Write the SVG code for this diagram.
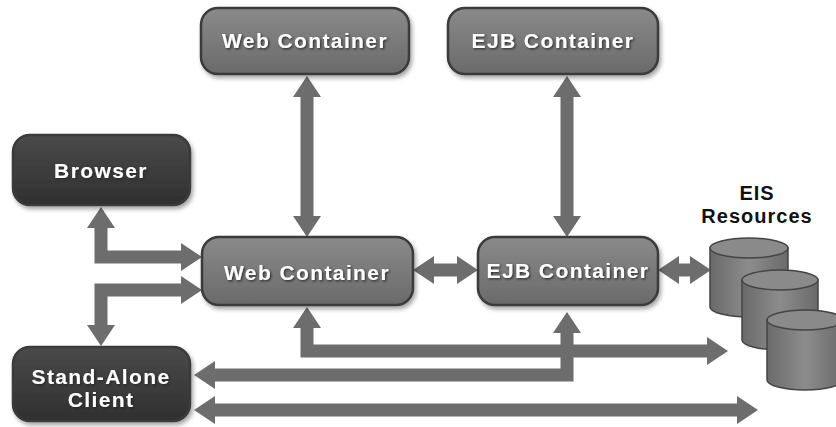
<svg xmlns="http://www.w3.org/2000/svg" width="836" height="427" viewBox="0 0 836 427">
<style>
.box{stroke:#3a3a3a;stroke-width:2.5}
.cont{fill:url(#gCont)}
.dark{fill:url(#gDark)}
.lbl{font-family:"Liberation Sans",Arial,sans-serif;font-weight:bold;font-size:21px;fill:#fff;text-anchor:middle;letter-spacing:1.4px;filter:url(#ts)}
.eis{font-family:"Liberation Sans",Arial,sans-serif;font-weight:bold;font-size:20px;fill:#111;text-anchor:middle;letter-spacing:1px}
.arr{fill:none;stroke:#6d6d6d;stroke-width:13;stroke-linejoin:miter;marker-start:url(#ah);marker-end:url(#ah)}
.cyl{fill:url(#gCyl);stroke:#444;stroke-width:1.5}
.cyltop{fill:#8a8a8a;stroke:#444;stroke-width:1.5}
</style>
<defs>
<linearGradient id="gCont" x1="0" y1="0" x2="0" y2="1">
<stop offset="0" stop-color="#8a8a8a"/><stop offset="1" stop-color="#6a6a6a"/>
</linearGradient>
<linearGradient id="gDark" x1="0" y1="0" x2="0" y2="1">
<stop offset="0" stop-color="#4a4a4a"/><stop offset="1" stop-color="#303030"/>
</linearGradient>
<linearGradient id="gCyl" x1="0" y1="0" x2="1" y2="0">
<stop offset="0" stop-color="#6a6a6a"/><stop offset="0.5" stop-color="#8c8c8c"/><stop offset="1" stop-color="#6a6a6a"/>
</linearGradient>
<filter id="ts" x="-10%" y="-30%" width="120%" height="160%">
<feDropShadow dx="1.2" dy="1.2" stdDeviation="0.8" flood-color="#222" flood-opacity="0.9"/>
</filter>
<filter id="bs" x="-10%" y="-10%" width="125%" height="130%">
<feDropShadow dx="2" dy="3" stdDeviation="2" flood-color="#000" flood-opacity="0.35"/>
</filter>
<marker id="ah" markerUnits="userSpaceOnUse" markerWidth="21" markerHeight="28" viewBox="0 0 21 28" refX="2" refY="14" orient="auto-start-reverse">
<path d="M0,0 L21,14 L0,28 Z" fill="#6d6d6d"/>
</marker>
</defs>

<g id="connectors">
<path class="arr" d="M307,95 L307,218"/>
<path class="arr" d="M567,95 L567,218"/>
<path class="arr" d="M101,226 L101,257 L183,257"/>
<path class="arr" d="M183,290 L101,290 L101,327"/>
<path class="arr" d="M432,270 L459,270"/>
<path class="arr" d="M677,270 L692,270"/>
<path class="arr" d="M307,326 L307,351 L709,351"/>
<path class="arr" d="M213,375 L567,375 L567,331"/>
<path class="arr" d="M213,410 L739,410"/>
</g>

<g id="web-top" filter="url(#bs)">
<rect class="box cont" x="201" y="8" width="208" height="66" rx="17"/>
<text class="lbl" x="305" y="48">Web Container</text>
</g>
<g id="ejb-top" filter="url(#bs)">
<rect class="box cont" x="448" y="8" width="210" height="66" rx="17"/>
<text class="lbl" x="553" y="48">EJB Container</text>
</g>
<g id="browser" filter="url(#bs)">
<rect class="box dark" x="13" y="135" width="177" height="70" rx="17"/>
<text class="lbl" x="101" y="178">Browser</text>
</g>
<g id="web-mid" filter="url(#bs)">
<rect class="box cont" x="202" y="237" width="211" height="68" rx="17"/>
<text class="lbl" x="307" y="280">Web Container</text>
</g>
<g id="ejb-mid" filter="url(#bs)">
<rect class="box cont" x="478" y="237" width="180" height="68" rx="17"/>
<text class="lbl" x="568" y="278">EJB Container</text>
</g>
<g id="client" filter="url(#bs)">
<rect class="box dark" x="13" y="347" width="177" height="74" rx="17"/>
<text class="lbl" x="101" y="384">Stand-Alone</text>
<text class="lbl" x="101" y="407">Client</text>
</g>
<g id="eis">
<text class="eis" x="757" y="200">EIS</text>
<text class="eis" x="757" y="223">Resources</text>
<path class="cyl" d="M710,248 L710,307 A39,10 0 0 0 788,307 L788,248 Z"/>
<ellipse class="cyltop" cx="749" cy="248" rx="39" ry="10"/>
<path class="cyl" d="M742,280 L742,340 A38,10 0 0 0 818,340 L818,280 Z"/>
<ellipse class="cyltop" cx="780" cy="280" rx="38" ry="10"/>
<path class="cyl" d="M767,320 L767,380 A38,10 0 0 0 843,380 L843,320 Z"/>
<ellipse class="cyltop" cx="805" cy="320" rx="38" ry="10"/>
</g>
</svg>
